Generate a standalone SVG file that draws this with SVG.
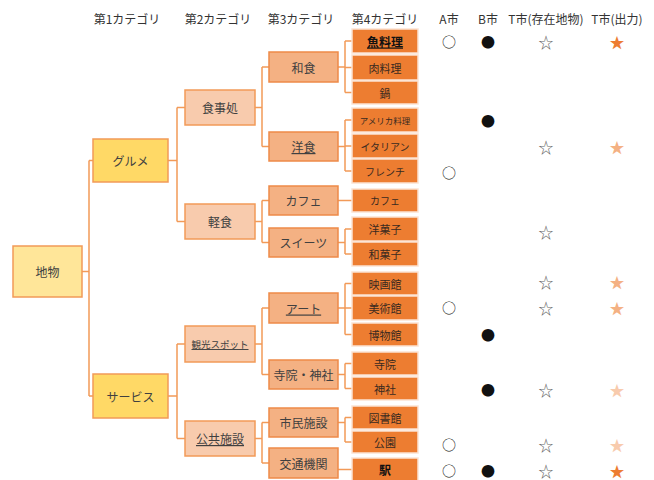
<svg xmlns="http://www.w3.org/2000/svg" width="654" height="480" viewBox="0 0 654 480">
<style>
text{font-family:"Noto Sans CJK JP","Noto Sans",sans-serif;text-anchor:middle;dominant-baseline:central;fill:#404040}
.hd{font-size:12px;fill:#333}
.l1 rect{fill:#FFD966;stroke:#F29A58;stroke-width:1.5}
.l0 rect{fill:#FFE699;stroke:#F29A58;stroke-width:1.5}
.l2 rect{fill:#F8CBAD;stroke:#F29A58;stroke-width:1.5}
.l3 rect{fill:#F4B183;stroke:#EE8A48;stroke-width:1.5}
.l4 rect{fill:#ED7D31;stroke:#FBE3D3;stroke-width:1.5}
.n{font-size:12px}
.s{font-size:11px;fill:#3a2a20}
.u{text-decoration:underline}
.b{font-weight:bold;fill:#111}
#conn path{fill:none;stroke:#F29A58;stroke-width:1.5}
.sym{font-size:14px;fill:#111}
.st{font-size:15px;fill:#666}
</style>
<g id="headers">
<text class="hd" x="127" y="18">第1カテゴリ</text>
<text class="hd" x="218" y="18">第2カテゴリ</text>
<text class="hd" x="301" y="18">第3カテゴリ</text>
<text class="hd" x="385" y="18">第4カテゴリ</text>
<text class="hd" x="449" y="18">A市</text>
<text class="hd" x="488" y="18">B市</text>
<text class="hd" x="546" y="18">T市(存在地物)</text>
<text class="hd" x="617" y="18">T市(出力)</text>
</g>
<g id="conn">
<path d="M82 271.5H89M89 160.5V396M89 160.5H93M89 396H93"/>
<path d="M168 160.5H177M177 107.5V221.5M177 107.5H185M177 221.5H185"/>
<path d="M168 396H177M177 344V438.5M177 344H185M177 438.5H185"/>
<path d="M255 107.5H262M262 67V146.5M262 67H269M262 146.5H269"/>
<path d="M255 221.5H262M262 200.5V242.5M262 200.5H269M262 242.5H269"/>
<path d="M255 344H262M262 308V374.5M262 308H269M262 374.5H269"/>
<path d="M255 438.5H262M262 422.5V463M262 422.5H269M262 463H269"/>
<path d="M338 67H345M345 41V92.5M345 41H352M345 67.5H352M345 92.5H352"/>
<path d="M338 146.5H345M345 120V171M345 120H352M345 146H352M345 171H352"/>
<path d="M338 200.5H352"/>
<path d="M338 242.5H345M345 229V254M345 229H352M345 254H352"/>
<path d="M338 308H345M345 283.5V334.5M345 283.5H352M345 308H352M345 334.5H352"/>
<path d="M338 374.5H345M345 363.5V388.5M345 363.5H352M345 388.5H352"/>
<path d="M338 422.5H345M345 417.5V442M345 417.5H352M345 442H352"/>
<path d="M338 469.5H352"/>
</g>
<g id="n-chibutsu" class="l0"><rect x="13" y="246" width="69" height="51"/><text class="n" x="47.5" y="271.5">地物</text></g>
<g id="n-gourmet" class="l1"><rect x="93" y="139" width="75" height="43"/><text class="n" x="130.5" y="160.5">グルメ</text></g>
<g id="n-service" class="l1"><rect x="93" y="374" width="75" height="44"/><text class="n" x="130.5" y="396">サービス</text></g>
<g id="n-shokujidokoro" class="l2"><rect x="185" y="90" width="70" height="35"/><text class="n" x="220" y="107.5">食事処</text></g>
<g id="n-keishoku" class="l2"><rect x="185" y="204" width="70" height="35"/><text class="n" x="220" y="221.5">軽食</text></g>
<g id="n-kanko" class="l2"><rect x="185" y="326" width="70" height="36"/><text class="u" style="font-size:9.5px" x="220" y="344">観光スポット</text></g>
<g id="n-kokyo" class="l2"><rect x="185" y="421" width="70" height="35"/><text class="n u" x="220" y="438.5">公共施設</text></g>
<g id="n-washoku" class="l3"><rect x="269" y="52" width="69" height="30"/><text class="n" x="303.5" y="67">和食</text></g>
<g id="n-yoshoku" class="l3"><rect x="269" y="132" width="69" height="29"/><text class="n u" x="303.5" y="146.5">洋食</text></g>
<g id="n-cafe3" class="l3"><rect x="269" y="186" width="69" height="29"/><text class="n" x="303.5" y="200.5">カフェ</text></g>
<g id="n-sweets" class="l3"><rect x="269" y="228" width="69" height="29"/><text class="n" x="303.5" y="242.5">スイーツ</text></g>
<g id="n-art" class="l3"><rect x="269" y="293" width="69" height="30"/><text class="n u" x="303.5" y="308">アート</text></g>
<g id="n-jiin-jinja" class="l3"><rect x="269" y="360" width="69" height="29"/><text class="n" x="303.5" y="374.5">寺院・神社</text></g>
<g id="n-shimin" class="l3"><rect x="269" y="408" width="69" height="29"/><text class="n" x="303.5" y="422.5">市民施設</text></g>
<g id="n-kotsu" class="l3"><rect x="269" y="448" width="69" height="30"/><text class="n" x="303.5" y="463">交通機関</text></g>
<g id="n-sakana" class="l4"><rect x="352" y="29" width="66" height="24"/><text class="n b u" x="385" y="41">魚料理</text></g>
<g id="n-niku" class="l4"><rect x="352" y="55" width="66" height="25"/><text class="s" x="385" y="67.5">肉料理</text></g>
<g id="n-nabe" class="l4"><rect x="352" y="81" width="66" height="23"/><text class="s" x="385" y="92.5">鍋</text></g>
<g id="n-america" class="l4"><rect x="352" y="108" width="66" height="24"/><text class="s" style="font-size:8.5px" x="385" y="120">アメリカ料理</text></g>
<g id="n-italian" class="l4"><rect x="352" y="134" width="66" height="24"/><text class="s" style="font-size:10px" x="385" y="146">イタリアン</text></g>
<g id="n-french" class="l4"><rect x="352" y="159" width="66" height="24"/><text class="s" style="font-size:10px" x="385" y="171">フレンチ</text></g>
<g id="n-cafe4" class="l4"><rect x="352" y="189" width="66" height="23"/><text class="s" style="font-size:10px" x="385" y="200.5">カフェ</text></g>
<g id="n-yogashi" class="l4"><rect x="352" y="217" width="66" height="24"/><text class="s" x="385" y="229">洋菓子</text></g>
<g id="n-wagashi" class="l4"><rect x="352" y="242" width="66" height="24"/><text class="s" x="385" y="254">和菓子</text></g>
<g id="n-eiga" class="l4"><rect x="352" y="272" width="66" height="23"/><text class="s" x="385" y="283.5">映画館</text></g>
<g id="n-bijutsu" class="l4"><rect x="352" y="296" width="66" height="24"/><text class="s" x="385" y="308">美術館</text></g>
<g id="n-hakubutsu" class="l4"><rect x="352" y="323" width="66" height="23"/><text class="s" x="385" y="334.5">博物館</text></g>
<g id="n-jiin" class="l4"><rect x="352" y="352" width="66" height="23"/><text class="s" x="385" y="363.5">寺院</text></g>
<g id="n-jinja" class="l4"><rect x="352" y="377" width="66" height="23"/><text class="s" x="385" y="388.5">神社</text></g>
<g id="n-tosho" class="l4"><rect x="352" y="406" width="66" height="23"/><text class="s" x="385" y="417.5">図書館</text></g>
<g id="n-koen" class="l4"><rect x="352" y="431" width="66" height="22"/><text class="s" x="385" y="442">公園</text></g>
<g id="n-eki" class="l4"><rect x="352" y="458" width="66" height="23"/><text class="n b" x="385" y="469.5">駅</text></g>
<g id="marks">
<text class="sym" x="449" y="41">○</text><text class="sym" x="488" y="41">●</text><text class="st" x="546" y="41">☆</text><text class="st" style="fill:#ED7D31" x="617" y="41">★</text>
<text class="sym" x="488" y="120">●</text>
<text class="st" x="546" y="146">☆</text><text class="st" style="fill:#F4B183" x="617" y="146">★</text>
<text class="sym" x="449" y="172">○</text>
<text class="st" x="546" y="231">☆</text>
<text class="st" x="546" y="281">☆</text><text class="st" style="fill:#F4B183" x="617" y="281">★</text>
<text class="sym" x="449" y="307">○</text><text class="st" x="546" y="307">☆</text><text class="st" style="fill:#F4B183" x="617" y="307">★</text>
<text class="sym" x="488" y="334">●</text>
<text class="sym" x="488" y="389">●</text><text class="st" x="546" y="389">☆</text><text class="st" style="fill:#F8CBAD" x="617" y="389">★</text>
<text class="sym" x="449" y="444">○</text><text class="st" x="546" y="444">☆</text><text class="st" style="fill:#F8CBAD" x="617" y="444">★</text>
<text class="sym" x="449" y="470">○</text><text class="sym" x="488" y="470">●</text><text class="st" x="546" y="470">☆</text><text class="st" style="fill:#ED7D31" x="617" y="470">★</text>
</g>
</svg>
